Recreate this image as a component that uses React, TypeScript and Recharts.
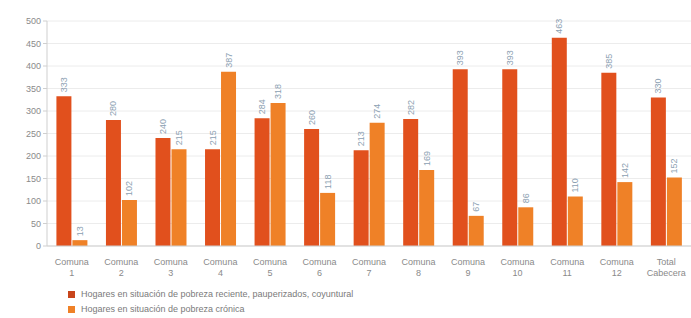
import React from 'react';
import { BarChart, Bar, XAxis, YAxis, CartesianGrid, LabelList } from 'recharts';

const CATEGORIES = [
  'Comuna|1', 'Comuna|2', 'Comuna|3', 'Comuna|4', 'Comuna|5', 'Comuna|6', 'Comuna|7',
  'Comuna|8', 'Comuna|9', 'Comuna|10', 'Comuna|11', 'Comuna|12', 'Total|Cabecera',
];
const RECIENTE = [333, 280, 240, 215, 284, 260, 213, 282, 393, 393, 463, 385, 330];
const CRONICA = [13, 102, 215, 387, 318, 118, 274, 169, 67, 86, 110, 142, 152];
const Y_TICKS = [0, 50, 100, 150, 200, 250, 300, 350, 400, 450, 500];

const SERIES_NAMES = [
  'Hogares en situación de pobreza reciente, pauperizados, coyuntural',
  'Hogares en situación de pobreza crónica',
];
const RED = '#e1501d';
const ORANGE = '#ef8127';
const FONT = '"Liberation Sans", Arial, sans-serif';

const data = CATEGORIES.map((c, i) => ({ name: c, reciente: RECIENTE[i], cronica: CRONICA[i] }));

const XTick = (props: any) => {
  const { x, y, payload } = props;
  const [a, b] = String(payload.value).split('|');
  return (
    <g transform={`translate(${x},${y})`}>
      <text textAnchor="middle" fill="#8a8a8a" fontSize={9} fontFamily={FONT}>
        <tspan x={0} dy={11}>{a}</tspan>
        <tspan x={0} dy={11}>{b}</tspan>
      </text>
    </g>
  );
};

const BarLabel = (props: any) => {
  const { x, y, width, value } = props;
  const cx = x + width / 2;
  const ty = y - 4;
  return (
    <text
      x={cx}
      y={ty}
      transform={`rotate(-90 ${cx} ${ty})`}
      textAnchor="start"
      dominantBaseline="central"
      fill="#8c9fb2"
      fontSize={9}
      fontFamily={FONT}
    >
      {value}
    </text>
  );
};

export default function App() {
  return (
    <div style={{ position: 'absolute', left: 0, top: 0, width: 691, height: 318, background: '#fff' }}>
      <BarChart
        width={691}
        height={318}
        data={data}
        margin={{ top: 21, right: 0, left: 0, bottom: 38 }}
        barGap={1}
        barCategoryGap="19%"
      >
        <CartesianGrid vertical={false} stroke="#ececec" />
        <XAxis
          dataKey="name"
          height={34}
          tick={<XTick />}
          tickLine={false}
          axisLine={{ stroke: '#cfcfcf' }}
          interval={0}
        />
        <YAxis
          width={47}
          domain={[0, 500]}
          ticks={Y_TICKS}
          interval={0}
          tick={{ fill: '#8a8a8a', fontSize: 9, fontFamily: FONT }}
          tickSize={4}
          tickLine={{ stroke: '#cfcfcf' }}
          axisLine={{ stroke: '#cfcfcf' }}
        />
        <Bar dataKey="reciente" fill={RED} isAnimationActive={false}>
          <LabelList dataKey="reciente" content={<BarLabel />} />
        </Bar>
        <Bar dataKey="cronica" fill={ORANGE} isAnimationActive={false}>
          <LabelList dataKey="cronica" content={<BarLabel />} />
        </Bar>
      </BarChart>
      <div style={{ position: 'absolute', left: 68, top: 287, fontFamily: FONT, fontSize: 9, color: '#7a7a7a', lineHeight: '11px' }}>
        {SERIES_NAMES.map((n, i) => (
          <div key={n} style={{ display: 'flex', alignItems: 'center', height: 15 }}>
            <span style={{ width: 7, height: 7, background: i === 0 ? '#c8451b' : ORANGE, marginRight: 6, display: 'inline-block' }} />
            <span>{n}</span>
          </div>
        ))}
      </div>
    </div>
  );
}
